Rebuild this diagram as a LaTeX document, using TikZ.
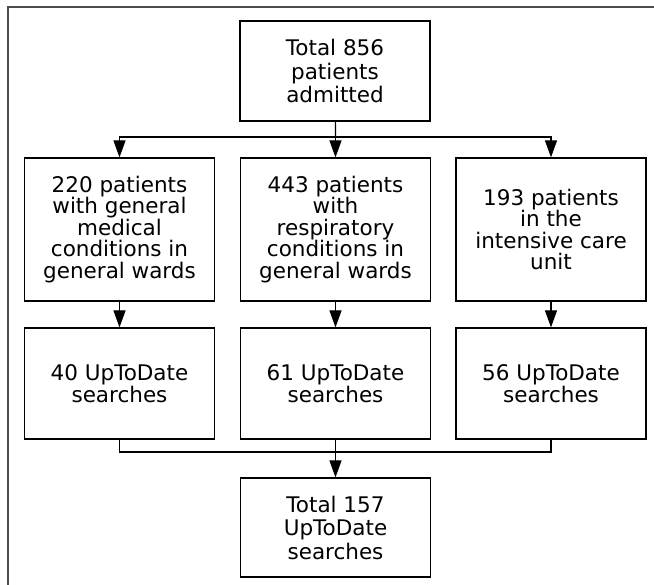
\documentclass[tikz,border=0pt]{standalone}
\usepackage{fontspec}
\setmainfont{DejaVu Sans}
\usetikzlibrary{arrows.meta}

\tikzset{
	box/.style = {draw, line width=1.2pt, align=center, inner sep=0pt,
		minimum width=190pt, font=\fontsize{21.5}{21.5}\selectfont},
	tallbox/.style = {box, font=\fontsize{21.5}{23.5}\selectfont},
	link/.style = {line width=1.2pt},
	arrowlink/.style = {link, -{Triangle[length=17pt,width=12pt]}}
}

\begin{document}
\begin{tikzpicture}[x=1pt,y=-1pt]
	\useasboundingbox (0,0) rectangle (654,585);
	\draw[line width=2pt, black!70] (8,585) -- (8,7) -- (654,7);

	\node[tallbox, minimum height=100pt] (admitted) at (335,71) {Total 856\\patients\\admitted};

	\node[box, minimum height=143pt] (medical) at (119.5,229.5) {220 patients\\with general\\medical\\conditions in\\general wards};
	\node[box, minimum height=143pt] (respiratory) at (335.5,229.5) {443 patients\\with\\respiratory\\conditions in\\general wards};
	\node[box, minimum height=143pt] (icu) at (551,229.5) {193 patients\\in the\\intensive care\\unit};

	\node[box, minimum height=111pt] (searchA) at (119.5,383.5) {40 UpToDate\\searches};
	\node[box, minimum height=111pt] (searchB) at (335.5,383.5) {61 UpToDate\\searches};
	\node[box, minimum height=111pt] (searchC) at (551,383.5) {56 UpToDate\\searches};

	\node[tallbox, minimum height=99pt] (total) at (335.5,527.5) {Total 157\\UpToDate\\searches};

	\coordinate (split) at (335.5,137);
	\coordinate (merge) at (335.5,452);

	\draw[link] (admitted) -- (split);
	\draw[arrowlink] (split) -| (medical);
	\draw[arrowlink] (split) -- (respiratory);
	\draw[arrowlink] (split) -| (icu);

	\draw[arrowlink] (medical) -- (searchA);
	\draw[arrowlink] (respiratory) -- (searchB);
	\draw[arrowlink] (icu) -- (searchC);

	\draw[link] (searchA) |- (merge) -| (searchC);
	\draw[arrowlink] (searchB) -- (total);
\end{tikzpicture}
\end{document}
